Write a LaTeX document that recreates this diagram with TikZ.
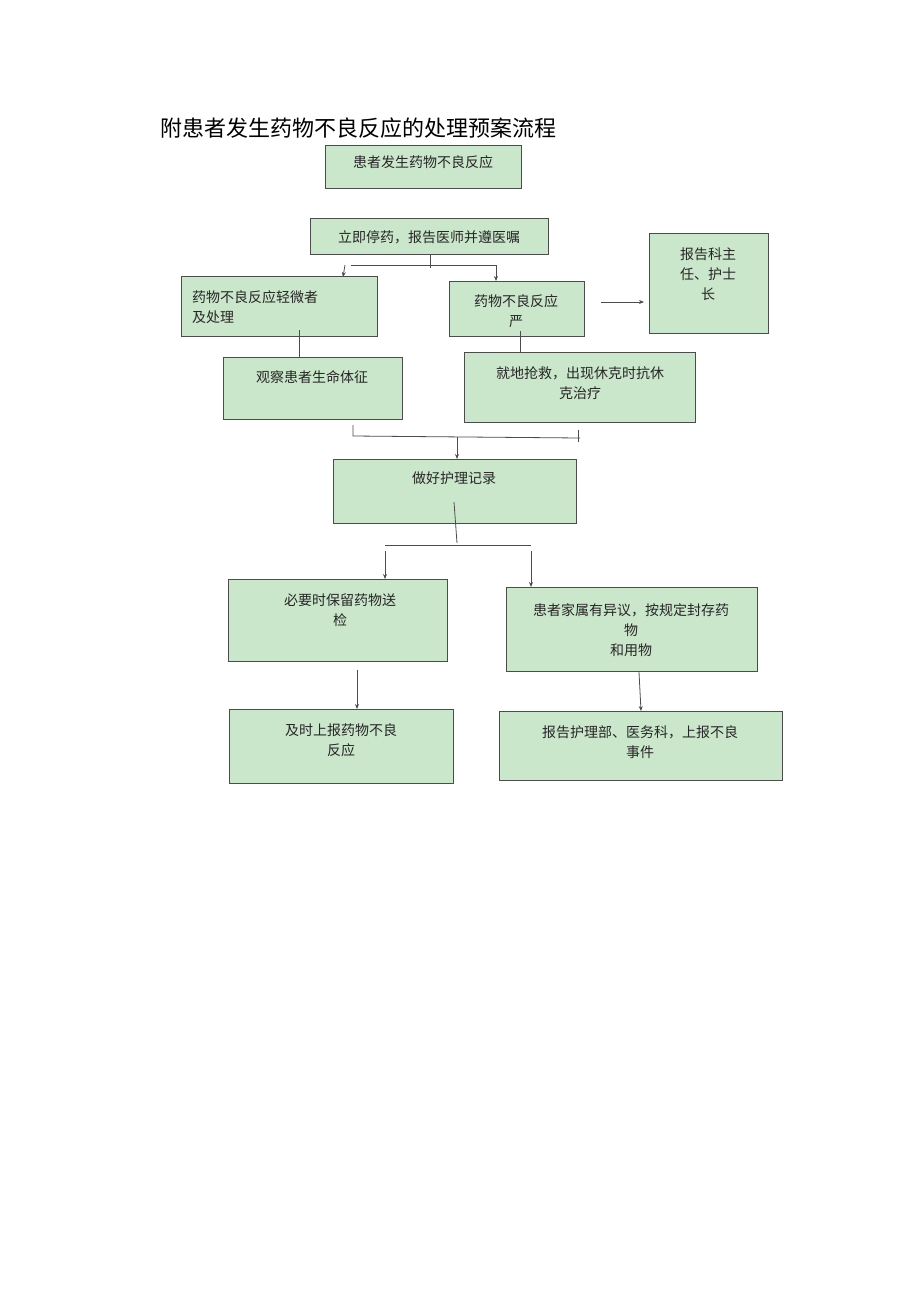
\documentclass[tikz,border=0pt]{standalone}
\usepackage{fontspec}
\setmainfont{Noto Sans CJK SC}
\usetikzlibrary{arrows.meta}
\tikzset{
 bx/.style={draw=black!70,fill=green!20!white!85!black!0,fill=boxg,line width=0.9pt,inner sep=0,anchor=north west},
 tx/.style={font=\fontsize{14}{20}\selectfont,align=center,inner sep=0,text=black!85},
 ln/.style={draw=black!70,line width=0.8pt},
 ar/.style={ln,-{Stealth[length=5pt,width=4pt]}}
}
\definecolor{boxg}{HTML}{CBE7CB}
\newcommand{\bx}[6]{\node[bx,minimum width=#4pt-#2pt,minimum height=#5pt-#3pt] (#1) at (#2,#3) {};\node[tx] (#1t) at (#6) }
\begin{document}
\begin{tikzpicture}[x=1pt,y=-1pt]
\useasboundingbox[fill=white] (0,0) rectangle (920,1301);
\node[anchor=west,font=\fontsize{22}{26}\selectfont,inner sep=0] (title) at (160,128) {附患者发生药物不良反应的处理预案流程};
\bx{b1}{325}{145}{521}{188}{423,162}{患者发生药物不良反应};
\bx{b2}{310}{218}{548}{254}{429,237}{立即停药，报告医师并遵医嘱};
\bx{b3}{181}{276}{377}{336}{192,308}{};
\node[tx,align=left,anchor=west] (b3t) at (192,307) {药物不良反应轻微者\\及处理};
\bx{b4}{449}{281}{584}{336}{516,311}{药物不良反应\\严};
\bx{b5}{649}{233}{768}{333}{708,274}{报告科主\\任、护士\\长};
\bx{b6}{223}{357}{402}{419}{312,377}{观察患者生命体征};
\bx{b7}{464}{352}{695}{422}{580,383}{就地抢救，出现休克时抗休\\克治疗};
\bx{b8}{333}{459}{576}{523}{454,478}{做好护理记录};
\bx{b9}{228}{579}{447}{661}{340,610}{必要时保留药物送\\检};
\bx{b10}{506}{587}{757}{671}{631,630}{患者家属有异议，按规定封存药\\物\\和用物};
\bx{b11}{229}{709}{453}{783}{341,740}{及时上报药物不良\\反应};
\bx{b12}{499}{711}{782}{780}{640,742}{报告护理部、医务科，上报不良\\事件};
% connectors
\coordinate (s1) at (430,265);
\draw[ln] (b2.south -| s1) -- (430,268);
\draw[ln] (351,265) -- (496,265);
\draw[ar] (345,265) -- (343,277);
\draw[ar] (496,265) -- (496,281);
\draw[ln] (299,330) -- (b6.north -| 299,0);
\draw[ln] (520,331) -- (b7.north -| 520,0);
\draw[ar] (601,302) -- (644,302);
\coordinate (m1) at (457,437);
\draw[ln] (353,425) -- (353,436) -- (580,438);
\draw[ln] (578,430) -- (578,442);
\draw[ar] (m1) -- (b8.north -| m1);
\draw[ln] (454,502) -- (457,543);
\draw[ln] (385,545) -- (531,545);
\draw[ar] (385,551) -- (b9.north -| 385,0);
\draw[ar] (531,551) -- (b10.north -| 531,0);
\draw[ar] (357,670) -- (b11.north -| 357,0);
\draw[ar] (639,672) -- (641,711);
\end{tikzpicture}
\end{document}
